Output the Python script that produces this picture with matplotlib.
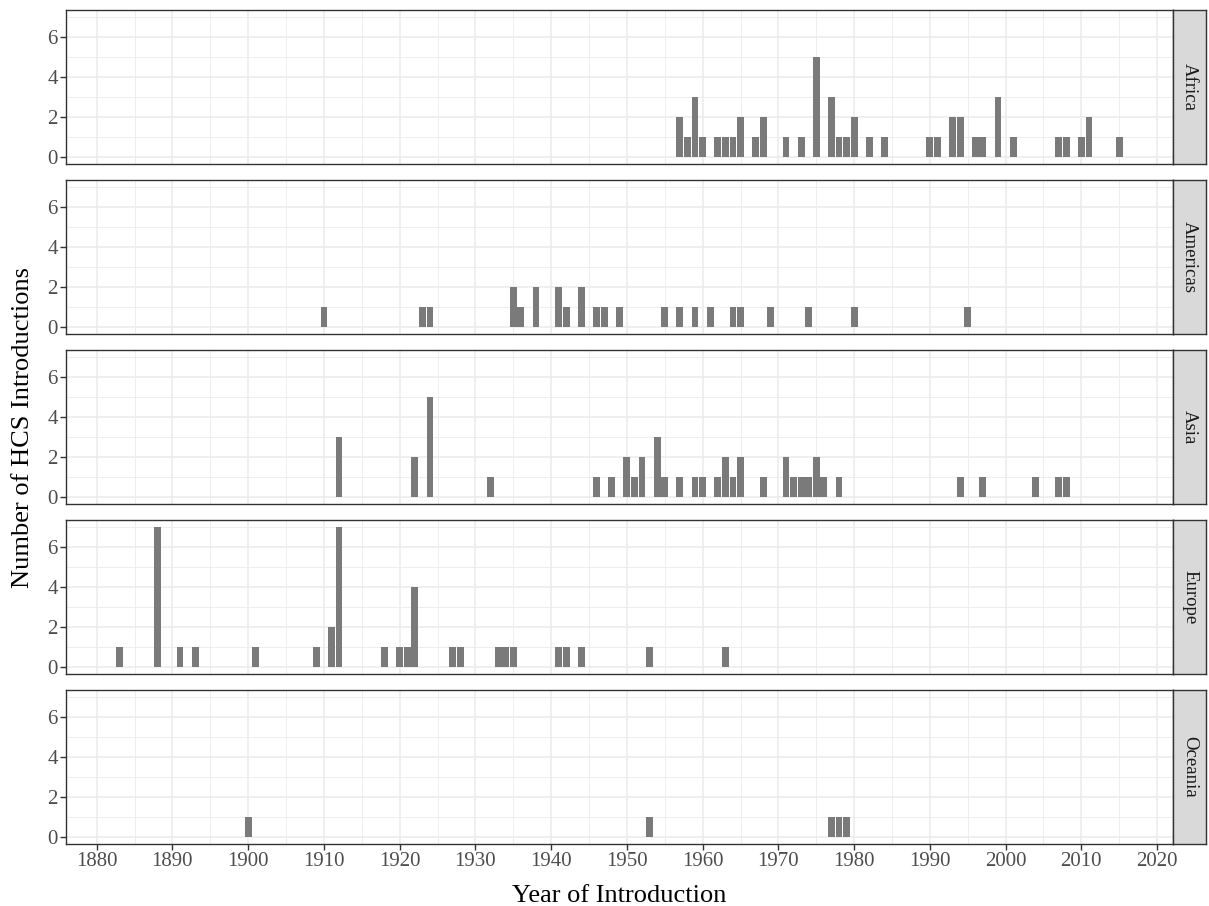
import matplotlib.pyplot as plt

plt.rcParams.update({
    'font.family': ['Liberation Serif', 'DejaVu Serif'],
})

regions = ['Africa', 'Americas', 'Asia', 'Europe', 'Oceania']

# introductions per year
africa_years = [1957, 1958, 1959, 1960, 1962, 1963, 1964, 1965, 1967, 1968, 1971, 1973,
                1975, 1977, 1978, 1979, 1980, 1982, 1984, 1990, 1991, 1993, 1994, 1996,
                1997, 1999, 2001, 2007, 2008, 2010, 2011, 2015]
africa_counts = [2, 1, 3, 1, 1, 1, 1, 2, 1, 2, 1, 1,
                 5, 3, 1, 1, 2, 1, 1, 1, 1, 2, 2, 1,
                 1, 3, 1, 1, 1, 1, 2, 1]

americas_years = [1910, 1923, 1924, 1935, 1936, 1938, 1941, 1942, 1944, 1946, 1947, 1949,
                  1955, 1957, 1959, 1961, 1964, 1965, 1969, 1974, 1980, 1995]
americas_counts = [1, 1, 1, 2, 1, 2, 2, 1, 2, 1, 1, 1,
                   1, 1, 1, 1, 1, 1, 1, 1, 1, 1]

asia_years = [1912, 1922, 1924, 1932, 1946, 1948, 1950, 1951, 1952, 1954, 1955, 1957,
              1959, 1960, 1962, 1963, 1964, 1965, 1968, 1971, 1972, 1973, 1974, 1975,
              1976, 1978, 1994, 1997, 2004, 2007, 2008]
asia_counts = [3, 2, 5, 1, 1, 1, 2, 1, 2, 3, 1, 1,
               1, 1, 1, 2, 1, 2, 1, 2, 1, 1, 1, 2,
               1, 1, 1, 1, 1, 1, 1]

europe_years = [1883, 1888, 1891, 1893, 1901, 1909, 1911, 1912, 1918, 1920, 1921, 1922,
                1927, 1928, 1933, 1934, 1935, 1941, 1942, 1944, 1953, 1963]
europe_counts = [1, 7, 1, 1, 1, 1, 2, 7, 1, 1, 1, 4,
                 1, 1, 1, 1, 1, 1, 1, 1, 1, 1]

oceania_years = [1900, 1953, 1977, 1978, 1979]
oceania_counts = [1, 1, 1, 1, 1]

data = {
    'Africa': (africa_years, africa_counts),
    'Americas': (americas_years, americas_counts),
    'Asia': (asia_years, asia_counts),
    'Europe': (europe_years, europe_counts),
    'Oceania': (oceania_years, oceania_counts),
}

W, H = 1209, 906
fig = plt.figure(figsize=(W / 100, H / 100), dpi=100)

left, right = 66, 1173
strip_w = 33
panel_h = 154
tops = [10 + 170 * i for i in range(5)]

for i, region in enumerate(regions):
    top = tops[i]
    ax = fig.add_axes([left / W, 1 - (top + panel_h) / H, (right - left) / W, panel_h / H])
    years, counts = data[region]
    ax.bar(years, counts, width=0.9, color='#7a7a7a', zorder=2)

    ax.set_xlim(1875.95, 2022.1)
    ax.set_ylim(-0.35, 7.35)
    ax.set_xticks(range(1880, 2021, 10))
    ax.set_xticks(range(1885, 2021, 10), minor=True)
    ax.set_yticks([0, 2, 4, 6])
    ax.set_yticks([1, 3, 5, 7], minor=True)
    ax.grid(which='major', color='#ebebeb', linewidth=1.1)
    ax.grid(which='minor', color='#ebebeb', linewidth=0.6)
    ax.set_axisbelow(True)
    for s in ax.spines.values():
        s.set_color('#333333')
        s.set_linewidth(1.0)

    ax.tick_params(which='major', direction='out', length=4, width=1, color='#333333',
                   labelcolor='#4d4d4d', labelsize=15, pad=2)
    ax.tick_params(which='minor', length=0)
    if i < 4:
        ax.tick_params(axis='x', which='both', bottom=False, labelbottom=False)

    # facet strip
    sx = fig.add_axes([right / W, 1 - (top + panel_h) / H, strip_w / W, panel_h / H])
    sx.set_facecolor('#d9d9d9')
    sx.set_xticks([])
    sx.set_yticks([])
    for s in sx.spines.values():
        s.set_color('#333333')
        s.set_linewidth(1.0)
    sx.text(0.5, 0.5, region, rotation=270, ha='center', va='center',
            fontsize=13.5, color='#1a1a1a', transform=sx.transAxes)

fig.text(619 / W, 1 - 902 / H, 'Year of Introduction', ha='center', va='baseline',
         fontsize=19, color='black')
fig.text(23 / W, 1 - 427 / H, 'Number of HCS Introductions', ha='center', va='center',
         rotation=90, fontsize=19, color='black')

plt.savefig('out.png', dpi=100)
plt.close()
